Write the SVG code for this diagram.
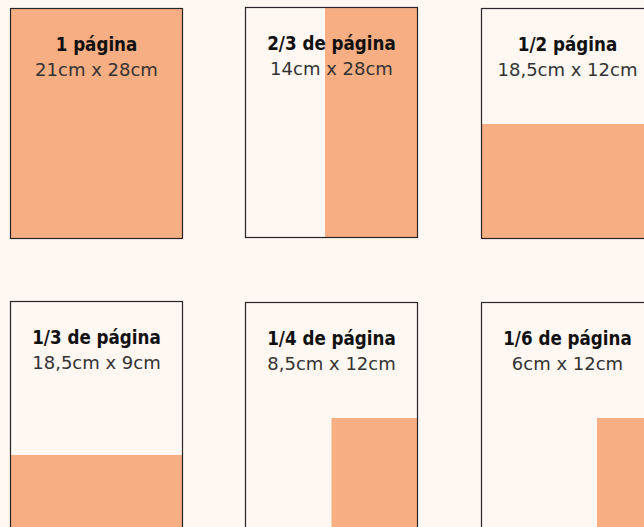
<svg xmlns="http://www.w3.org/2000/svg" width="644" height="527" viewBox="0 0 644 527">
<style>
.bg{fill:#FEF7F2}
.fill{fill:#F7AE83}
.frame{fill:none;stroke:#262626;stroke-width:1.2}
.t1{font-family:"DejaVu Sans Condensed","DejaVu Sans","Liberation Sans",sans-serif;font-weight:bold;font-size:18.6px;fill:#111;text-anchor:middle}
.t2{font-family:"DejaVu Sans","Liberation Sans",sans-serif;font-size:18px;fill:#333;text-anchor:middle}
</style>
<rect class="bg" x="0" y="0" width="644" height="527"/>
<g id="pagina-1">
<rect class="fill" x="10.5" y="8.5" width="172" height="230"/>
<rect class="frame" x="10.5" y="8.5" width="172" height="230"/>
<text class="t1" x="96.5" y="50.5">1 página</text>
<text class="t2" x="96.5" y="75.5">21cm x 28cm</text>
</g>
<g id="pagina-2-3">
<rect class="fill" x="325" y="7.5" width="92.5" height="230"/>
<rect class="frame" x="245.5" y="7.5" width="172" height="230"/>
<text class="t1" x="331.5" y="49.5">2/3 de página</text>
<text class="t2" x="331.5" y="74.5">14cm x 28cm</text>
</g>
<g id="pagina-1-2">
<rect class="fill" x="481.5" y="124" width="172" height="114.5"/>
<rect class="frame" x="481.5" y="8.5" width="172" height="230"/>
<text class="t1" x="567.5" y="50.5">1/2 página</text>
<text class="t2" x="567.5" y="75.5">18,5cm x 12cm</text>
</g>
<g id="pagina-1-3">
<rect class="fill" x="10" y="455" width="172.5" height="77"/>
<rect class="frame" x="10.5" y="301.5" width="172" height="230"/>
<text class="t1" x="96.5" y="343.5">1/3 de página</text>
<text class="t2" x="96.5" y="368.5">18,5cm x 9cm</text>
</g>
<g id="pagina-1-4">
<rect class="fill" x="331.5" y="418" width="86.5" height="115"/>
<rect class="frame" x="245.5" y="302.5" width="172" height="230"/>
<text class="t1" x="331.5" y="344.5">1/4 de página</text>
<text class="t2" x="331.5" y="369.5">8,5cm x 12cm</text>
</g>
<g id="pagina-1-6">
<rect class="fill" x="597" y="418" width="57" height="115"/>
<rect class="frame" x="481.5" y="302.5" width="172" height="230"/>
<text class="t1" x="567.5" y="344.5">1/6 de página</text>
<text class="t2" x="567.5" y="369.5">6cm x 12cm</text>
</g>
<g id="connectors"/>
</svg>
